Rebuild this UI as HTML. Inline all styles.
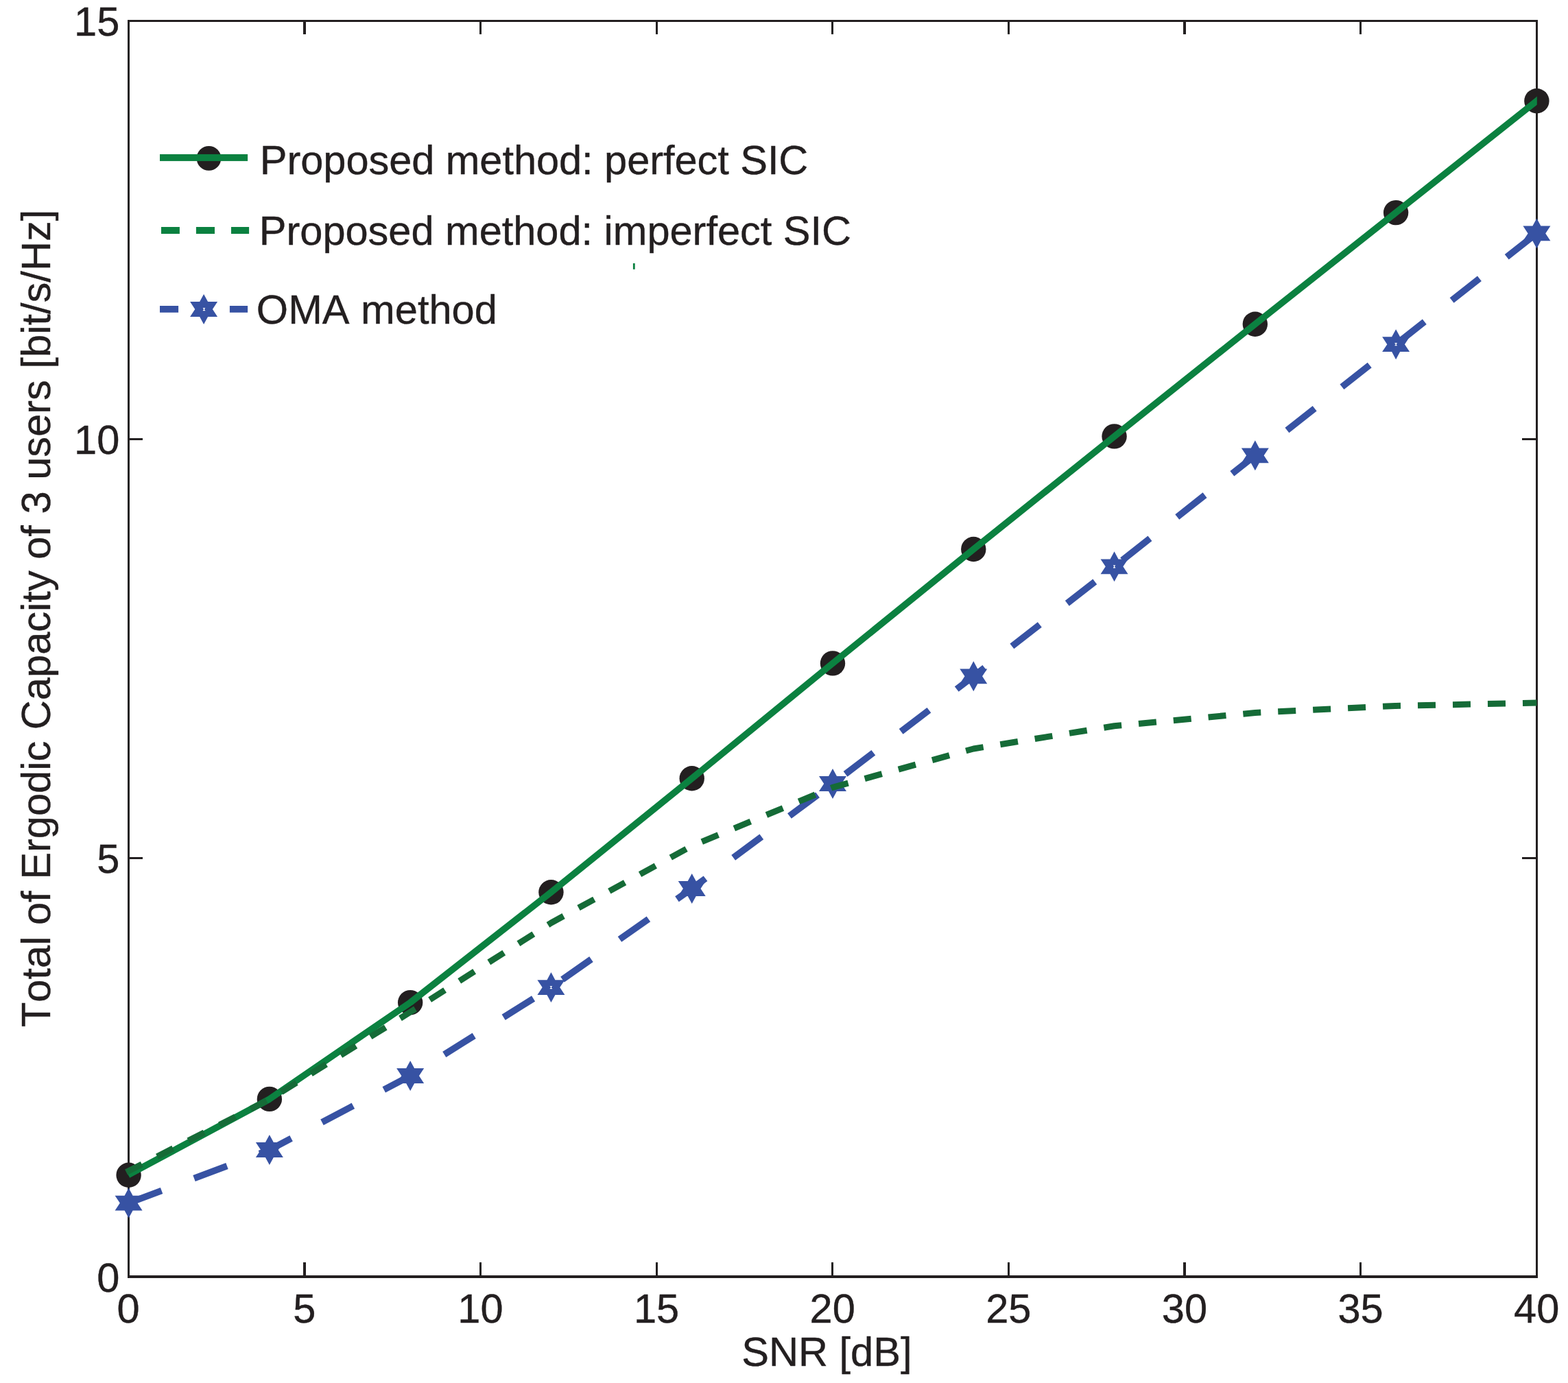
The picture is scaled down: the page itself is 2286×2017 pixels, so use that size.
<!DOCTYPE html>
<html lang="en">
<head>
<meta charset="utf-8">
<title>Total of Ergodic Capacity of 3 users vs SNR</title>
<style>
html,body{margin:0;padding:0;background:#ffffff;}
body{width:2286px;height:2017px;overflow:hidden;}
svg{display:block;}
</style>
</head>
<body>
<svg width="2286" height="2017" viewBox="0 0 2286 2017">
<rect x="0" y="0" width="2286" height="2017" fill="#ffffff"/>
<g fill="#231f20" shape-rendering="auto">
<rect x="186" y="29" width="3" height="1835"/>
<rect x="2239" y="29" width="3" height="1835"/>
<rect x="186" y="29" width="2056" height="3"/>
<rect x="186" y="1860" width="2056" height="4"/>
<rect x="442" y="1841" width="4" height="20"/>
<rect x="442" y="31" width="4" height="19"/>
<rect x="699" y="1841" width="3" height="20"/>
<rect x="699" y="31" width="3" height="19"/>
<rect x="956" y="1841" width="3" height="20"/>
<rect x="956" y="31" width="3" height="19"/>
<rect x="1212" y="1841" width="3" height="20"/>
<rect x="1212" y="31" width="3" height="19"/>
<rect x="1469" y="1841" width="3" height="20"/>
<rect x="1469" y="31" width="3" height="19"/>
<rect x="1725" y="1841" width="4" height="20"/>
<rect x="1725" y="31" width="4" height="19"/>
<rect x="1982" y="1841" width="3" height="20"/>
<rect x="1982" y="31" width="3" height="19"/>
<rect x="188" y="1250" width="20" height="3"/>
<rect x="2219" y="1250" width="20" height="3"/>
<rect x="188" y="639" width="20" height="3"/>
<rect x="2219" y="639" width="20" height="3"/>
</g>
<g font-family='"Liberation Sans", sans-serif' font-size="59.6px" fill="#231f20" stroke="#231f20" stroke-width="0.4" style="font-kerning:none">
<text x="174.3" y="1884.0" text-anchor="end">0</text>
<text x="174.3" y="1272.7" text-anchor="end">5</text>
<text x="174.3" y="661.9" text-anchor="end">10</text>
<text x="174.3" y="52.4" text-anchor="end">15</text>
<text x="187.20" y="1928.8" text-anchor="middle">0</text>
<text x="443.82" y="1928.8" text-anchor="middle">5</text>
<text x="700.45" y="1928.8" text-anchor="middle">10</text>
<text x="957.08" y="1928.8" text-anchor="middle">15</text>
<text x="1213.70" y="1928.8" text-anchor="middle">20</text>
<text x="1470.33" y="1928.8" text-anchor="middle">25</text>
<text x="1726.95" y="1928.8" text-anchor="middle">30</text>
<text x="1983.58" y="1928.8" text-anchor="middle">35</text>
<text x="2240.20" y="1928.8" text-anchor="middle">40</text>
<text x="1081.2" y="1992.2">SNR [dB]</text>
<text transform="translate(72.9,1498.1) rotate(-90)" x="0" y="0">Total of Ergodic Capacity of 3 users [bit/s/Hz]</text>
<text x="378.8" y="254.2" textLength="799.6" lengthAdjust="spacing">Proposed method: perfect SIC</text>
<text x="377.8" y="356.7" textLength="863.2" lengthAdjust="spacing">Proposed method: imperfect SIC</text>
<text x="373.8" y="471.6">OMA method</text>
</g>
<polyline points="187.60,1754.60 392.88,1677.00 598.16,1569.00 803.44,1440.10 1008.72,1296.00 1214.00,1143.00 1419.28,986.30 1624.56,826.30 1829.84,664.30 2035.12,502.20 2240.40,340.40" fill="none" stroke="#3752a3" stroke-width="9.6" stroke-dasharray="51.3 50.7" stroke-linejoin="miter"/>
<g fill="#3752a3">
<polygon points="187.60,1732.60 193.60,1743.70 207.60,1743.70 200.40,1754.60 207.60,1765.50 193.60,1765.50 187.60,1776.60 181.60,1765.50 167.60,1765.50 174.80,1754.60 167.60,1743.70 181.60,1743.70"/>
<polygon points="392.88,1655.00 398.88,1666.10 412.88,1666.10 405.68,1677.00 412.88,1687.90 398.88,1687.90 392.88,1699.00 386.88,1687.90 372.88,1687.90 380.08,1677.00 372.88,1666.10 386.88,1666.10"/>
<polygon points="598.16,1547.00 604.16,1558.10 618.16,1558.10 610.96,1569.00 618.16,1579.90 604.16,1579.90 598.16,1591.00 592.16,1579.90 578.16,1579.90 585.36,1569.00 578.16,1558.10 592.16,1558.10"/>
<polygon points="803.44,1418.10 809.44,1429.20 823.44,1429.20 816.24,1440.10 823.44,1451.00 809.44,1451.00 803.44,1462.10 797.44,1451.00 783.44,1451.00 790.64,1440.10 783.44,1429.20 797.44,1429.20"/>
<polygon points="1008.72,1274.00 1014.72,1285.10 1028.72,1285.10 1021.52,1296.00 1028.72,1306.90 1014.72,1306.90 1008.72,1318.00 1002.72,1306.90 988.72,1306.90 995.92,1296.00 988.72,1285.10 1002.72,1285.10"/>
<polygon points="1214.00,1121.00 1220.00,1132.10 1234.00,1132.10 1226.80,1143.00 1234.00,1153.90 1220.00,1153.90 1214.00,1165.00 1208.00,1153.90 1194.00,1153.90 1201.20,1143.00 1194.00,1132.10 1208.00,1132.10"/>
<polygon points="1419.28,964.30 1425.28,975.40 1439.28,975.40 1432.08,986.30 1439.28,997.20 1425.28,997.20 1419.28,1008.30 1413.28,997.20 1399.28,997.20 1406.48,986.30 1399.28,975.40 1413.28,975.40"/>
<polygon points="1624.56,804.30 1630.56,815.40 1644.56,815.40 1637.36,826.30 1644.56,837.20 1630.56,837.20 1624.56,848.30 1618.56,837.20 1604.56,837.20 1611.76,826.30 1604.56,815.40 1618.56,815.40"/>
<polygon points="1829.84,642.30 1835.84,653.40 1849.84,653.40 1842.64,664.30 1849.84,675.20 1835.84,675.20 1829.84,686.30 1823.84,675.20 1809.84,675.20 1817.04,664.30 1809.84,653.40 1823.84,653.40"/>
<polygon points="2035.12,480.20 2041.12,491.30 2055.12,491.30 2047.92,502.20 2055.12,513.10 2041.12,513.10 2035.12,524.20 2029.12,513.10 2015.12,513.10 2022.32,502.20 2015.12,491.30 2029.12,491.30"/>
<polygon points="2240.40,318.40 2246.40,329.50 2260.40,329.50 2253.20,340.40 2260.40,351.30 2246.40,351.30 2240.40,362.40 2234.40,351.30 2220.40,351.30 2227.60,340.40 2220.40,329.50 2234.40,329.50"/>
</g>
<path d="M801.84 1438.00h3.2v1.1h-1v2h1v1.1h-3.2v-1.1h1v-2h-1z" fill="#ffffff"/>
<path d="M1622.96 824.20h3.2v1.1h-1v2h1v1.1h-3.2v-1.1h1v-2h-1z" fill="#ffffff"/>
<path d="M2033.52 500.10h3.2v1.1h-1v2h1v1.1h-3.2v-1.1h1v-2h-1z" fill="#ffffff"/>
<g fill="#231f20">
<circle cx="187.60" cy="1713.80" r="18.2"/>
<circle cx="392.88" cy="1602.90" r="18.2"/>
<circle cx="598.16" cy="1462.10" r="18.2"/>
<circle cx="803.44" cy="1301.30" r="18.2"/>
<circle cx="1008.72" cy="1135.30" r="18.2"/>
<circle cx="1214.00" cy="967.40" r="18.2"/>
<circle cx="1419.28" cy="801.00" r="18.2"/>
<circle cx="1624.56" cy="636.40" r="18.2"/>
<circle cx="1829.84" cy="472.70" r="18.2"/>
<circle cx="2035.12" cy="310.10" r="18.2"/>
<circle cx="2240.40" cy="147.20" r="18.2"/>
</g>
<clipPath id="cr"><rect x="0" y="0" width="2240.8" height="2017"/></clipPath>
<polyline clip-path="url(#cr)" points="186.90,1713.60 392.88,1602.90 598.16,1462.10 803.44,1301.30 1008.72,1135.30 1214.00,967.40 1419.28,801.00 1624.56,636.40 1829.84,472.70 2035.12,310.10 2240.40,147.20 2245.10,143.47" fill="none" stroke="#0b8140" stroke-width="9.6" stroke-linejoin="round"/>
<polyline points="184.10,1709.50 392.88,1603.50 598.16,1476.00 803.44,1346.00 1008.72,1233.70 1214.00,1148.40 1419.28,1092.00 1624.56,1058.80 1829.84,1039.50 2035.12,1029.40 2240.40,1025.10" fill="none" stroke="#156b37" stroke-width="9.0" stroke-dasharray="26 25" stroke-dashoffset="0.5" stroke-linejoin="round"/>
<circle cx="304.5" cy="230.9" r="17.9" fill="#231f20"/>
<rect x="233" y="224.9" width="128.1" height="10" fill="#0b8140"/>
<rect x="235.0" y="331" width="26.9" height="10" fill="#0b8140"/>
<rect x="285.9" y="331" width="27.1" height="10" fill="#0b8140"/>
<rect x="337.0" y="331" width="26.1" height="10" fill="#0b8140"/>
<rect x="233.0" y="446" width="27.1" height="9.8" fill="#3752a3"/>
<rect x="334.9" y="446" width="26.2" height="9.8" fill="#3752a3"/>
<polygon points="297.10,429.00 303.10,440.10 317.10,440.10 309.90,451.00 317.10,461.90 303.10,461.90 297.10,473.00 291.10,461.90 277.10,461.90 284.30,451.00 277.10,440.10 291.10,440.10" fill="#3752a3"/>
<path d="M295.90 449.00h3.2v1.1h-1v2h1v1.1h-3.2v-1.1h1v-2h-1z" fill="#ffffff"/>
<rect x="922.9" y="384" width="2.8" height="8.8" fill="#0b8140"/>
</svg>
</body>
</html>
